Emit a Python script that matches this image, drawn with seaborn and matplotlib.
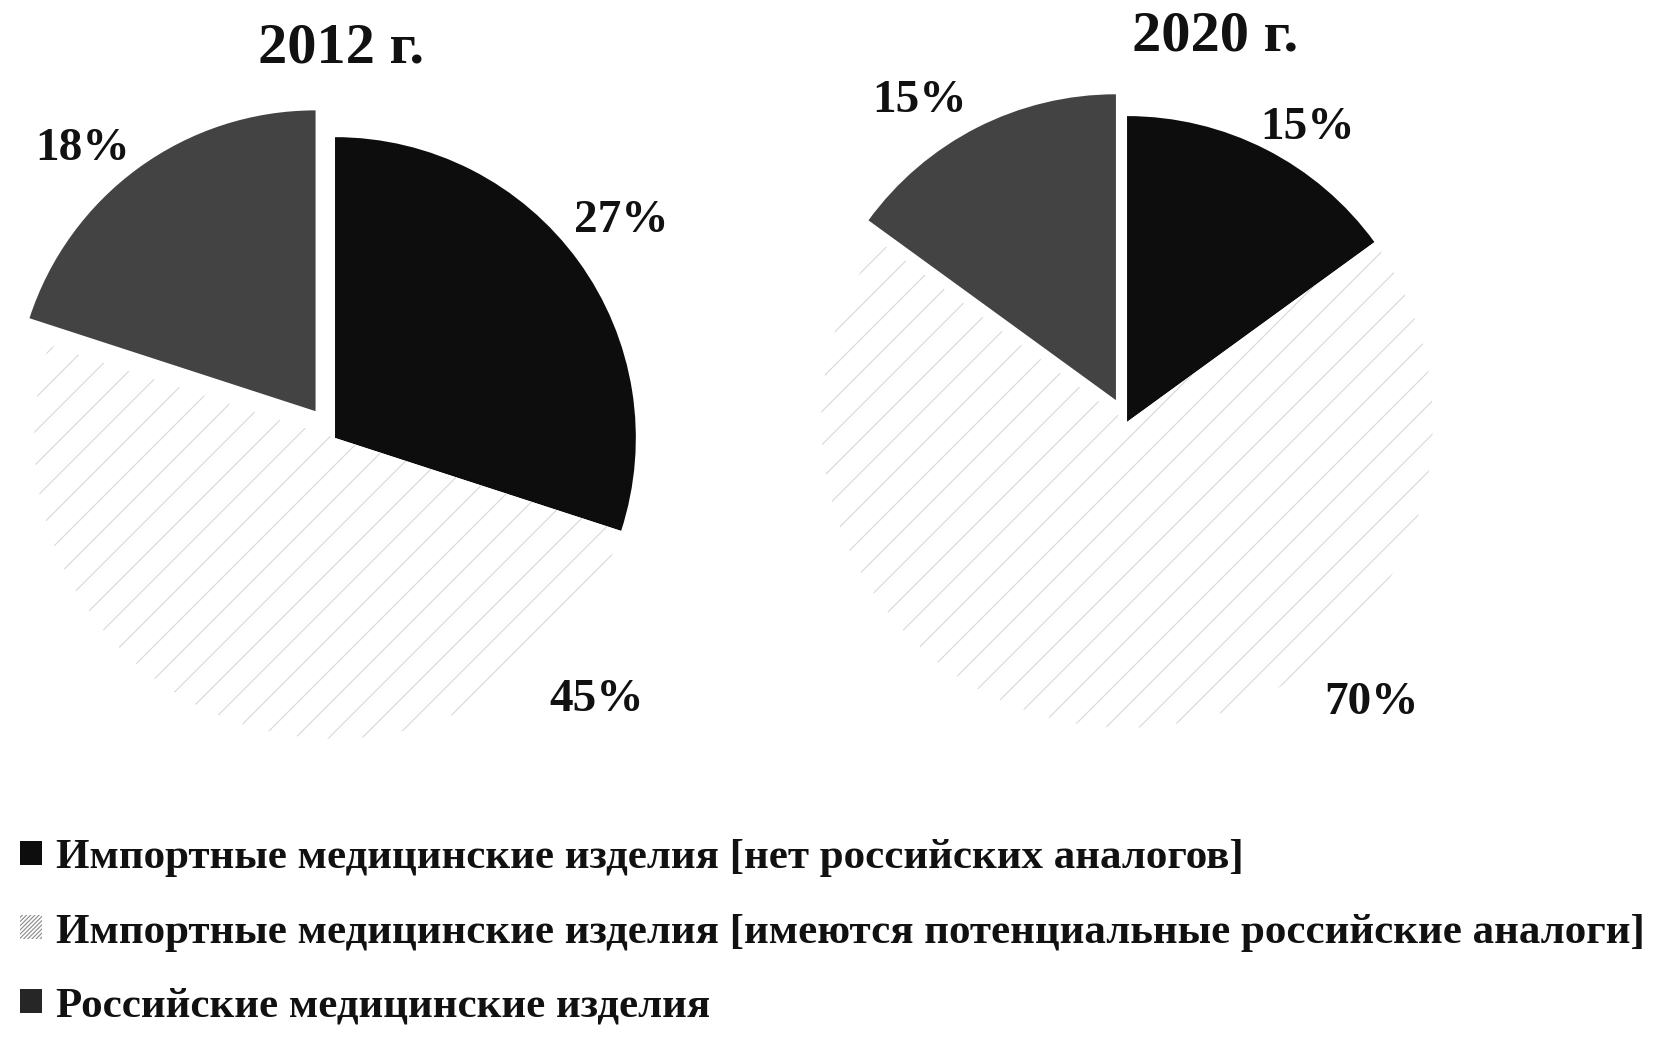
import matplotlib.pyplot as plt
import seaborn as sns
from matplotlib.patches import Patch

# data
years = ["2012 г.", "2020 г."]
categories = [
    "Импортные медицинские изделия [нет российских аналогов]",
    "Импортные медицинские изделия [имеются потенциальные российские аналоги]",
    "Российские медицинские изделия",
]
shares_2012 = [27, 45, 18]
shares_2020 = [15, 70, 15]
pct_labels_2012 = ["27%", "45%", "18%"]
pct_labels_2020 = ["15%", "70%", "15%"]

# styling / layout
colors = ["#0d0d0d", "#ffffff", "#434343"]
legend_colors = ["#0d0d0d", "#d9d9d9", "#262626"]
explode_2012 = [0, 0, 0.11]
explode_2020 = [0, 0, 0.08]
# label positions in units of pie radius (x, y) from pie centre
label_pos_2012 = [(0.95, 0.72), (0.87, -0.87), (-0.84, 0.96)]
label_pos_2020 = [(0.59, 0.96), (0.80, -0.92), (-0.68, 1.05)]

sns.set_theme(style="white")
plt.rcParams["font.family"] = ["Liberation Serif", "DejaVu Serif"]
plt.rcParams["hatch.linewidth"] = 0.8

fig = plt.figure(figsize=(16.54, 10.44), dpi=100)
fig.patch.set_facecolor("white")

ax1 = fig.add_axes([-0.0157, 0.2347, 0.4365, 0.6916])
ax2 = fig.add_axes([0.4595, 0.2443, 0.4438, 0.7031])


def draw_pie(ax, values, labels, explode, label_pos):
    wedges, _ = ax.pie(
        values,
        colors=colors,
        explode=explode,
        startangle=90,
        counterclock=False,
        radius=1,
        wedgeprops={"linewidth": 0},
    )
    # the light slice only has a faint hatch in the scan
    wedges[1].set_edgecolor("#d8d8d8")
    wedges[1].set_hatch("/")
    wedges[1].set_linewidth(0)
    for lab, (x, y) in zip(labels, label_pos):
        ax.text(x, y, lab, ha="center", va="center",
                fontsize=34, fontweight="bold", color="#111111")
    ax.set_xlim(-1.2, 1.2)
    ax.set_ylim(-1.2, 1.2)
    ax.set_aspect("equal")
    ax.axis("off")


draw_pie(ax1, shares_2012, pct_labels_2012, explode_2012, label_pos_2012)
draw_pie(ax2, shares_2020, pct_labels_2020, explode_2020, label_pos_2020)

fig.text(0.206, 0.954, years[0], ha="center", va="center",
         fontsize=42, fontweight="bold", color="#111111")
fig.text(0.7346, 0.9646, years[1], ha="center", va="center",
         fontsize=42, fontweight="bold", color="#111111")

handles = []
for i, c in enumerate(legend_colors):
    if i == 1:
        handles.append(Patch(facecolor="white", edgecolor="#8a8a8a",
                             hatch="////////", linewidth=0))
    else:
        handles.append(Patch(facecolor=c, edgecolor=c, linewidth=0))

leg = fig.legend(
    handles, categories,
    loc="upper left", bbox_to_anchor=(0.012, 0.196),
    frameon=False,
    handlelength=0.52, handleheight=0.48, handletextpad=0.33,
    labelspacing=0.84, borderaxespad=0, borderpad=0,
    prop={"weight": "bold", "size": 31},
)
for t in leg.get_texts():
    t.set_color("#111111")

fig.savefig("out.png", dpi=100, facecolor="white")
